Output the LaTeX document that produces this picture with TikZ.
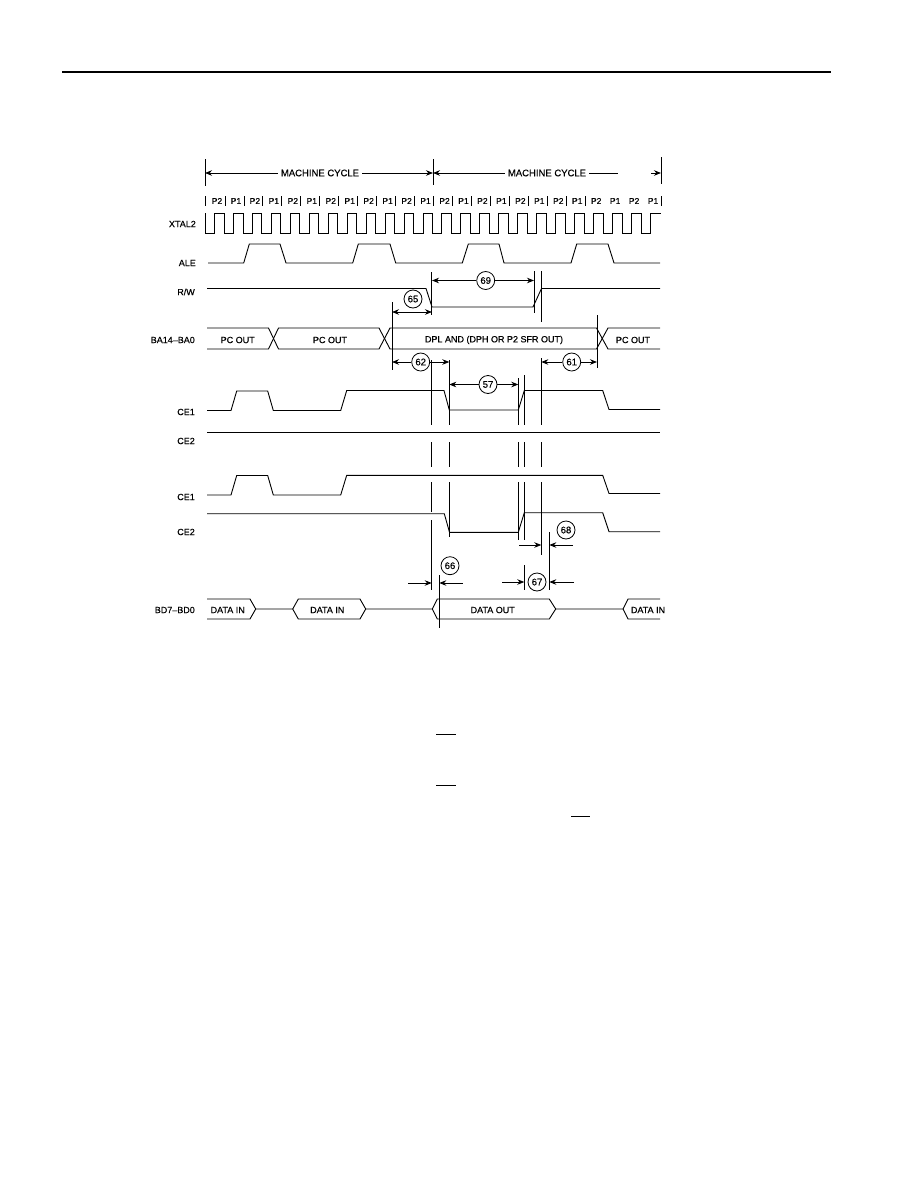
\documentclass[tikz,border=0pt]{standalone}
\usepackage{fontspec}
\setmainfont{Liberation Sans}[FakeBold=0.35]
\newfontface\heavy{Liberation Sans}[FakeBold=0.35]
\usetikzlibrary{arrows.meta}
\tikzset{
  wave/.style={line width=0.9pt,line join=miter},
  guide/.style={line width=0.9pt},
  dim/.style={line width=0.8pt,-{Stealth[length=7pt,width=5.5pt]}},
  sig/.style={font=\heavy\fontsize{9}{10}\selectfont,anchor=east,inner sep=0pt},
  txt/.style={font=\heavy\fontsize{9}{10}\selectfont,inner sep=0pt},
  cyc/.style={font=\heavy\fontsize{9.5}{11}\selectfont,inner sep=0pt},
  ph/.style={font=\heavy\fontsize{8.5}{10}\selectfont,inner sep=0pt},
  num/.style={circle,draw,line width=0.8pt,minimum size=18pt,inner sep=0pt,font=\heavy\fontsize{9.5}{10}\selectfont,fill=white},
}
\begin{document}
\begin{tikzpicture}[x=1pt,y=-1pt]
\useasboundingbox (0,0) rectangle (918,1188);
\fill[white] (0,0) rectangle (918,1188);
% header rule
\draw[line width=2pt] (62,72) -- (831,72);
% machine cycle
\draw[guide] (205,159) -- (205,186);
\draw[guide] (433,159) -- (433,185);
\draw[guide] (661,157) -- (661,184);
\node[cyc] (mc1) at (320,173) {MACHINE CYCLE};
\node[cyc] (mc2) at (547,173) {MACHINE CYCLE};
\coordinate (m0) at (205,173);
\coordinate (m1) at (433,173);
\coordinate (m2) at (661,173);
\coordinate (m2b) at (618,173);
\coordinate (m2c) at (651,173);
\draw[dim] (mc1.west) ++(-3,0) -- (m0);
\draw[dim] (mc1.east) ++(3,0) -- (m1);
\draw[dim] (mc2.west) ++(-3,0) -- (m1);
\draw[line width=0.8pt] (mc2.east) ++(3,0) -- (m2b);
\draw[dim] (m2c) -- (m2);
% phase labels
\draw[guide] (205,196) -- (205,206);
\foreach \k/\t in {0/P2,1/P1,2/P2,3/P1,4/P2,5/P1,6/P2,7/P1,8/P2,9/P1,10/P2,11/P1,12/P2,13/P1,14/P2,15/P1,16/P2,17/P1,18/P2,19/P1,20/P2,21/P1,22/P2,23/P1}{
  \node[ph] (ph\k) at ({217+18.96*\k},201) {\t};
}
\foreach \k in {0,...,19,23}{
  \draw[guide] ({225+18.96*\k},196) -- ({225+18.96*\k},206);
}
% labels
\node[sig] (l1) at (196,224) {XTAL2};
\node[sig] (l2) at (196,263) {ALE};
\node[sig] (l3) at (195,292) {R/W};
\node[sig] (l4) at (195,340) {BA14–BA0};
\node[sig] (l5) at (195,412) {CE1};
\node[sig] (l6) at (195,441) {CE2};
\node[sig] (l7) at (195,497) {CE1};
\node[sig] (l8) at (195,532) {CE2};
\node[sig] (l9) at (195,610) {BD7–BD0};
% XTAL2
\draw[wave] (205.7,213) -- (205.7,233)
  foreach \k in {0,...,22}{ -- ({214.4+18.96*\k},233) -- ({214.4+18.96*\k},213) -- ({224+18.96*\k},213) -- ({224+18.96*\k},233) }
  -- (650.5,233) -- (650.5,213) -- (661,213);
% ALE
\draw[wave] (208,263) -- (243.7,263) -- (249.3,244) -- (280,244) -- (286,263) -- (352.7,263) -- (358.3,244) -- (390,244) -- (395.7,263)
  -- (462.3,263) -- (468.3,244) -- (499,244) -- (504,263) -- (571,263) -- (576.7,244) -- (608,244) -- (614,263) -- (660,263);
% R/W
\draw[wave] (207,288.5) -- (426,288.5) -- (432,307) -- (533,307) -- (541.5,288.5) -- (660,288.5);
% BA bus
\draw[wave] (207,328) -- (268.5,328) -- (278.5,349) -- (379,349) -- (390,328) -- (596.5,328) -- (608,349) -- (660,349);
\draw[wave] (207,349) -- (268.5,349) -- (278.5,328) -- (379,328) -- (390,349) -- (596.5,349) -- (608,328) -- (660,328);
\node[txt] (t1) at (237.7,340) {PC OUT};
\node[txt] (t2) at (330,340) {PC OUT};
\node[txt] (t3) at (494,340) {DPL AND (DPH OR P2 SFR OUT)};
\node[txt] (t4) at (633,340) {PC OUT};
% CE1 / CE2 first
\draw[wave] (207,410.5) -- (231,410.5) -- (236.7,391) -- (267.7,391) -- (273.3,410.5) -- (340.7,410.5) -- (346.7,390.5) -- (444,390.5) -- (449.3,410) -- (518.3,410) -- (524.3,390.5) -- (602.7,390.5) -- (609,409.5) -- (660,409.5);
\draw[wave] (207,432) -- (660,432);
% CE1 / CE2 second
\draw[wave] (207,495) -- (231,495) -- (236.7,475.5) -- (267.7,475.5) -- (273.3,495) -- (340.7,495) -- (346.7,475.3) -- (602.7,475.3) -- (609,493.5) -- (660,493.5);
\draw[wave] (207,513.7) -- (444.3,513.7) -- (449.5,532.3) -- (518.3,532.3) -- (524.3,512.7) -- (602.7,512.7) -- (609,531.7) -- (660,531.7);
% BD bus
\draw[wave] (207,599) -- (250,599) -- (255.7,609) -- (250,619) -- (207,619);
\draw[wave] (255.7,609) -- (292.7,609) -- (298.3,599) -- (360,599) -- (365.7,609) -- (360,619) -- (298.3,619) -- (292.7,609);
\draw[wave] (365.7,609) -- (432.3,609) -- (437.3,599) -- (549.3,599) -- (555.7,609) -- (549.3,619) -- (437.3,619) -- (432.3,609);
\draw[wave] (555.7,609) -- (623,609) -- (628,599) -- (660,599);
\draw[wave] (623,609) -- (628,619) -- (660,619);
\node[txt] (d1) at (227.7,610) {DATA IN};
\node[txt] (d2) at (327.3,610) {DATA IN};
\node[txt] (d3) at (492.7,610) {DATA OUT};
\node[txt] (d4) at (648,610) {DATA IN};
% guides
\draw[guide] (392,302) -- (392,370);
\draw[guide] (431.7,272) -- (431.7,315);
\draw[guide] (534,271) -- (534,313);
\draw[guide] (541.3,271) -- (541.3,322);
\draw[guide] (597,315) -- (597,368);
\foreach \x/\a in {431.7/360,449.3/360,518.3/378,524.3/375,541.3/358}{
  \draw[guide] (\x,\a) -- (\x,425);
  \draw[guide] (\x,442) -- (\x,467);
}
\draw[guide] (431.7,482) -- (431.7,512);
\draw[guide] (431.7,520) -- (431.7,590);
\draw[guide] (449.3,482) -- (449.3,537);
\draw[guide] (518.3,482) -- (518.3,540);
\draw[guide] (524.3,482) -- (524.3,540);
\draw[guide] (524.3,565) -- (524.3,590);
\draw[guide] (541.3,482) -- (541.3,555);
\draw[guide] (549.3,532) -- (549.3,590);
\draw[guide] (439.3,575) -- (439.3,628);
% numbered timings
\node[num] (n65) at (413,299) {65};
\node[num] (n69) at (485.7,280.5) {69};
\node[num] (n62) at (420.7,362) {62};
\node[num] (n61) at (571.7,362) {61};
\node[num] (n57) at (488,384.5) {57};
\node[num] (n68) at (566,530) {68};
\node[num] (n67) at (537,582) {67};
\node[num] (n66) at (450,565.7) {66};
\coordinate (a65) at (392,312);
\coordinate (b65) at (432,312);
\coordinate (m65) at (412,312);
\draw[dim] (m65) -- (a65);
\draw[dim] (m65) -- (b65);
\coordinate (a69) at (432,280.5);
\coordinate (b69) at (534,280.5);
\draw[dim] (n69) -- (a69);
\draw[dim] (n69) -- (b69);
\coordinate (a62) at (392,362);
\coordinate (b62) at (449.3,362);
\draw[dim] (n62) -- (a62);
\draw[dim] (n62) -- (b62);
\coordinate (a61) at (541.3,362);
\coordinate (b61) at (597,362);
\draw[dim] (n61) -- (a61);
\draw[dim] (n61) -- (b61);
\coordinate (a57) at (449.3,384.5);
\coordinate (b57) at (518.3,384.5);
\draw[dim] (n57) -- (a57);
\draw[dim] (n57) -- (b57);
\coordinate (a68) at (519,545);
\coordinate (b68) at (541.3,545);
\coordinate (c68) at (573,545);
\coordinate (d68) at (549.3,545);
\draw[dim] (a68) -- (b68);
\draw[dim] (c68) -- (d68);
\coordinate (a67) at (502,582);
\coordinate (b67) at (524.3,582);
\coordinate (c67) at (574,582);
\coordinate (d67) at (549.3,582);
\draw[dim] (a67) -- (b67);
\draw[dim] (c67) -- (d67);
\coordinate (a66) at (408,583);
\coordinate (b66) at (431.7,583);
\coordinate (c66) at (462.7,583);
\coordinate (d66) at (439.3,583);
\draw[dim] (a66) -- (b66);
\draw[dim] (c66) -- (d66);
% rules below the figure
\draw[line width=1.3pt] (436,734.3) -- (456,734.3);
\draw[line width=1.3pt] (436,785.3) -- (456,785.3);
\draw[line width=1.3pt] (571,816.3) -- (590,816.3);
\end{tikzpicture}
\end{document}
